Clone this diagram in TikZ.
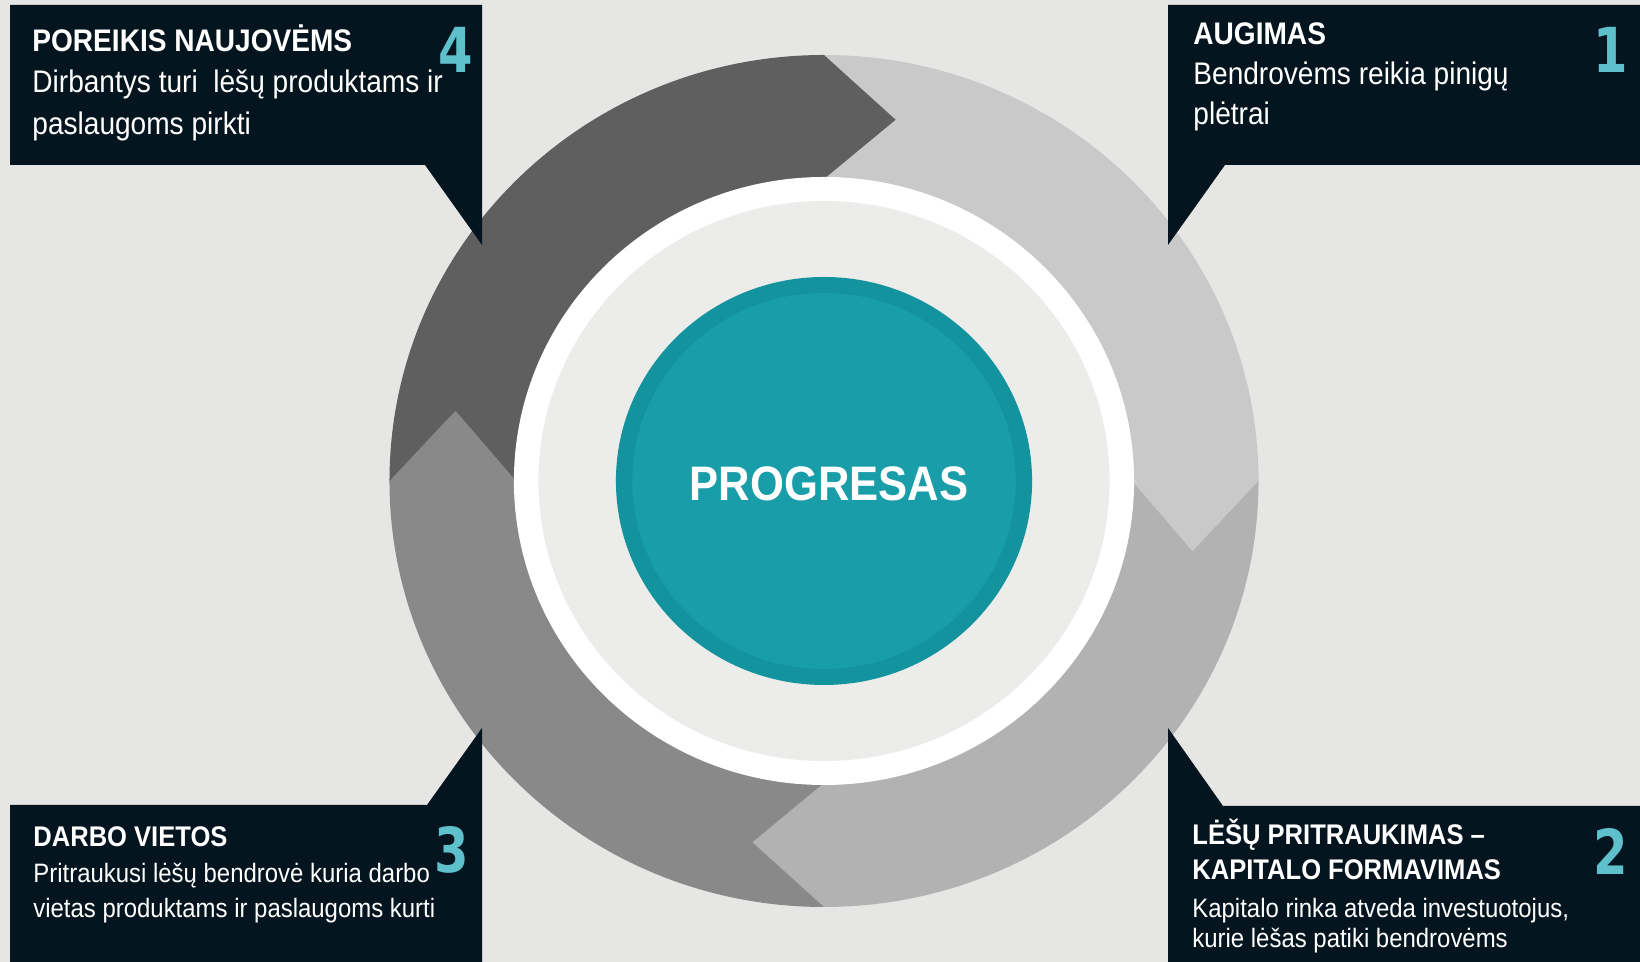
\documentclass[tikz,border=0pt]{standalone}
\usepackage{fontspec}
\setmainfont{Liberation Sans}[FakeStretch=0.9]
\newfontfamily\numfont{DejaVu Sans}[FakeStretch=0.8]

\definecolor{pagebg}{HTML}{E6E6E4}
\definecolor{segone}{HTML}{C9C9C9}
\definecolor{segtwo}{HTML}{B2B2B2}
\definecolor{segthree}{HTML}{898989}
\definecolor{segfour}{HTML}{5F5F5F}
\definecolor{innerdisk}{HTML}{ECECEB}
\definecolor{tealrim}{HTML}{12939E}
\definecolor{tealcore}{HTML}{199EA9}
\definecolor{boxnavy}{HTML}{051520}
\definecolor{numteal}{HTML}{5EC0CB}

\begin{document}
\begin{tikzpicture}[x=0.5pt,y=0.5pt,
  callout/.style={fill=boxnavy},
  headtxt/.style={anchor=base west,inner sep=0pt,text=white,font=\bfseries\fontsize{15.6}{18}\selectfont},
  bodytxt/.style={anchor=base west,inner sep=0pt,text=white,font=\fontsize{15.6}{18}\selectfont},
  headsm/.style={headtxt,font=\bfseries\fontsize{14.2}{17}\selectfont},
  bodysm/.style={bodytxt,font=\fontsize{13.3}{16}\selectfont},
  numtxt/.style={anchor=base east,inner sep=0pt,text=numteal,font=\numfont\bfseries\fontsize{31}{34}\selectfont}]

\useasboundingbox (0,0) rectangle (1640,962);
\fill[pagebg] (0,0) rectangle (1640,962);

% ring of four arrows
\begin{scope}[shift={(824,481)},xscale=1.02]
\foreach \s/\c in {90/segone,0/segtwo,-90/segthree,180/segfour}
  \fill[\c] (\s:426) arc[start angle=\s,end angle=\s-90,radius=426]
    -- (\s-101:368) -- (\s-90:302)
    arc[start angle=\s-90,end angle=\s,radius=302]
    -- (\s-11:368) -- cycle;

\fill[white] (0,0) circle[radius=304];
\fill[innerdisk] (0,0) circle[radius=280];
\fill[tealrim] (0,0) circle[radius=204];
\fill[tealcore] (0,0) circle[radius=188];
\end{scope}

\node (prog) at (829,478) [text=white,font=\bfseries\fontsize{24.2}{26}\selectfont] {PROGRESAS};

% callout boxes
\fill[callout] (10,957) -- (482,957) -- (482,717) -- (425,797) -- (10,797) -- cycle;
\fill[callout] (1168,957) -- (1640,957) -- (1640,797) -- (1225,797) -- (1168,717) -- cycle;
\fill[callout] (10,157) -- (427,157) -- (482,234) -- (482,0) -- (10,0) -- cycle;
\fill[callout] (1168,234) -- (1223,156) -- (1640,156) -- (1640,0) -- (1168,0) -- cycle;

% 4
\node (h4) at (32,910) [headtxt] {POREIKIS NAUJOVĖMS};
\node (b4a) at (32,869) [bodytxt] {Dirbantys turi \ lėšų produktams ir};
\node (b4b) at (32,827) [bodytxt] {paslaugoms pirkti};
\node (n4) at (473,889) [numtxt] {4};

% 1
\node (h1) at (1193,917) [headtxt] {AUGIMAS};
\node (b1a) at (1193,877) [bodytxt] {Bendrovėms reikia pinigų};
\node (b1b) at (1193,837) [bodytxt] {plėtrai};
\node (n1) at (1628,889) [numtxt] {1};

% 3
\node (h3) at (33,115) [headsm] {DARBO VIETOS};
\node (b3a) at (33,79) [bodysm] {Pritraukusi lėšų bendrovė kuria darbo};
\node (b3b) at (33,44) [bodysm] {vietas produktams ir paslaugoms kurti};
\node (n3) at (469,89) [numtxt] {3};

% 2
\node (h2a) at (1192,117) [headsm] {LĖŠŲ PRITRAUKIMAS –};
\node (h2b) at (1192,82) [headsm] {KAPITALO FORMAVIMAS};
\node (b2a) at (1192,44) [bodysm] {Kapitalo rinka atveda investuotojus,};
\node (b2b) at (1192,14) [bodysm] {kurie lėšas patiki bendrovėms};
\node (n2) at (1628,87) [numtxt] {2};

\end{tikzpicture}
\end{document}
